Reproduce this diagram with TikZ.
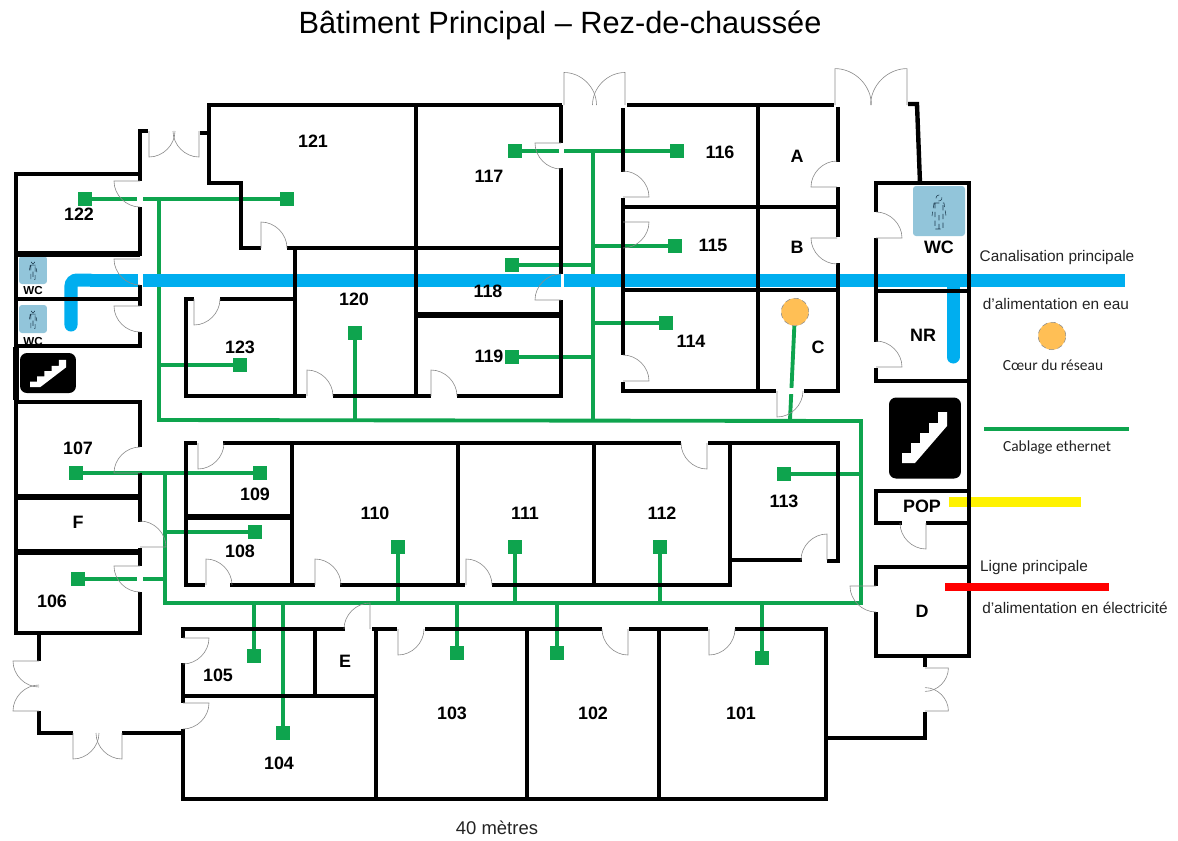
\documentclass[tikz,border=0pt]{standalone}
\usepackage{fontspec}
\usepackage{xcolor}
\setmainfont{Liberation Sans}
\newfontfamily\legendfont{Carlito}
\definecolor{cableGreen}{RGB}{14, 164, 78}
\definecolor{waterBlue}{RGB}{0, 174, 239}
\definecolor{coreOrange}{RGB}{255, 191, 85}
\definecolor{iconBlue}{RGB}{146, 197, 218}
\definecolor{iconLine}{RGB}{30, 60, 80}
\definecolor{powerYellow}{RGB}{255, 242, 0}
\definecolor{powerRed}{RGB}{255, 0, 0}
\definecolor{doorGray}{RGB}{140, 140, 140}
\definecolor{textGray}{RGB}{35, 35, 35}

% door: hinge, then the transform that turns it
\newcommand{\door}[2]{\draw[doorline, shift={(#1)}, #2] (0,0) -- (0,26) .. controls (14,26) and (26,14) .. (26,0);}
\newcommand{\stairs}[2]{\fill[white, shift={(#1)}, #2] (0,0) -- (0,-10) -- (9,-10) -- (9,-20) -- (18,-20) -- (18,-30) -- (27,-30) -- (27,-40) -- (36,-40) -- (36,-51) -- (45,-51) -- (45,-37) -- (13,0) -- cycle;}
\newcommand{\person}[2]{\draw[iconLine, line width=0.3pt, densely dashed, shift={(#1)}, scale=#2] (0,-14) circle (3) (-5,-9) -- (5,-9) -- (7,4) (-5,-9) -- (-7,4) (-4,-9) -- (-4,17) -- (4,17) -- (4,-9) (0,3) -- (0,17);}

\begin{document}
\begin{tikzpicture}[x=0.02cm, y=-0.02cm]
            % Styles
            \tikzstyle{wall} = [line width=2.5pt, black]
            \tikzstyle{thickwall} = [line width=3.4pt, black]
            \tikzstyle{doorline} = [line width=0.35pt, doorGray]
            \tikzstyle{cable} = [line width=2.2pt, cableGreen]
            \tikzstyle{outlet} = [rectangle, minimum size=0.28cm, inner sep=0pt, fill=cableGreen]
            \tikzstyle{water} = [line width=7.4pt, waterBlue]
            \tikzstyle{core} = [circle, minimum size=0.55cm, inner sep=0pt, fill=coreOrange, draw=doorGray, densely dashed, line width=0.3pt]
            \tikzstyle{room} = [font=\bfseries\fontsize{10.2}{12}\selectfont, inner sep=0pt]
            \tikzstyle{legend} = [font=\fontsize{8.75}{10}\selectfont, text=textGray, inner sep=0pt]
            \tikzstyle{legendb} = [font=\legendfont\fontsize{8.8}{10}\selectfont, text=textGray, inner sep=0pt]
            \tikzstyle{wcicon} = [rectangle, rounded corners=0.06cm, fill=iconBlue]
            \tikzstyle{stairicon} = [rectangle, rounded corners=0.14cm, fill=black]

            \useasboundingbox (0,0) rectangle (1178,840);

            % Outlets
            \node[outlet] (outlet122) at (85,199) {};
            \node[outlet] (outlet121) at (287,199) {};
            \node[outlet] (outlet123) at (240,365) {};
            \node[outlet] (outlet120) at (355,333) {};
            \node[outlet] (outlet117) at (515,151) {};
            \node[outlet] (outlet116) at (677,151) {};
            \node[outlet] (outlet118) at (512,265) {};
            \node[outlet] (outlet115) at (675,246) {};
            \node[outlet] (outlet114) at (666,323) {};
            \node[outlet] (outlet119) at (512,357) {};
            \node[outlet] (outlet113) at (784,474) {};
            \node[outlet] (outlet107) at (76,473) {};
            \node[outlet] (outlet109) at (260,473) {};
            \node[outlet] (outlet108) at (255,532) {};
            \node[outlet] (outlet106) at (78,579) {};
            \node[outlet] (outlet110) at (398,547) {};
            \node[outlet] (outlet111) at (515,547) {};
            \node[outlet] (outlet112) at (660,547) {};
            \node[outlet] (outlet105) at (254,656) {};
            \node[outlet] (outlet104) at (283,733) {};
            \node[outlet] (outlet103) at (457,653) {};
            \node[outlet] (outlet102) at (557,653) {};
            \node[outlet] (outlet101) at (762,658) {};
            \node[core] (core) at (795,312) {};

            % Cable junctions
            \coordinate (loopA) at (159,199);
            \coordinate (loopB) at (159,420);
            \coordinate (loopC) at (861,421);
            \coordinate (loopD) at (861,603);
            \coordinate (loopE) at (165,603);
            \coordinate (loopF) at (165,473);
            \coordinate (trunkTop) at (593,151);
            \coordinate (trunkEnd) at (593,421);
            \coordinate (coreDrop) at (790,420);

            % Cables
            \draw[cable] (outlet122) -- (outlet121);
            \draw[cable] (outlet117) -- (outlet116);
            \draw[cable] (outlet107) -- (outlet109);
            \draw[cable] (loopA) -- (loopB) -- (loopC) -- (loopD) -- (loopE) -- (loopF);
            \draw[cable] (trunkTop) -- (trunkEnd);
            \draw[cable] (outlet123) -- (outlet123 -| loopA);
            \draw[cable] (outlet120) -- (outlet120 |- loopB);
            \draw[cable] (outlet118) -- (outlet118 -| trunkTop);
            \draw[cable] (outlet115) -- (outlet115 -| trunkTop);
            \draw[cable] (outlet114) -- (outlet114 -| trunkTop);
            \draw[cable] (outlet119) -- (outlet119 -| trunkTop);
            \draw[cable] (outlet113) -- (outlet113 -| loopC);
            \draw[cable] (outlet108) -- (outlet108 -| loopE);
            \draw[cable] (outlet106) -- (outlet106 -| loopE);
            \draw[cable] (outlet110) -- (outlet110 |- loopE);
            \draw[cable] (outlet111) -- (outlet111 |- loopE);
            \draw[cable] (outlet112) -- (outlet112 |- loopE);
            \draw[cable] (outlet105) -- (outlet105 |- loopE);
            \draw[cable] (outlet104) -- (outlet104 |- loopE);
            \draw[cable] (outlet103) -- (outlet103 |- loopE);
            \draw[cable] (outlet102) -- (outlet102 |- loopE);
            \draw[cable] (outlet101) -- (outlet101 |- loopE);
            \draw[cable] (core) -- (coreDrop);
            \fill[white] (137,192) rectangle (143,205);
            \fill[white] (137,574) rectangle (143,586);
            \fill[white] (559,146) rectangle (564,158);
            \fill[white] (784,388) rectangle (797,394);

            % Water pipe
            \coordinate (pipeA) at (71,325);
            \coordinate (pipeB) at (71,280);
            \coordinate (pipeC) at (90,280);
            \coordinate (pipeD) at (1125,280);
            \coordinate (pipeE) at (953,285);
            \coordinate (pipeF) at (953,357);
            \draw[water, line cap=round, rounded corners=0.12cm] (pipeA) -- (pipeB) -- (pipeC);
            \draw[water] (pipeC) -- (pipeD);
            \draw[water, line cap=round] (pipeE) -- (pipeF);
            \fill[white] (138,273) rectangle (143,287);
            \fill[white] (561,273) rectangle (564,287);

            % Icons
            \node[wcicon, minimum width=0.56cm, minimum height=0.56cm] (wcIconA) at (33,270) {};
            \node[wcicon, minimum width=0.56cm, minimum height=0.56cm] (wcIconB) at (33,319) {};
            \node[wcicon, minimum width=1.04cm, minimum height=1.0cm] (wcIconC) at (939,211) {};
            \person{33,270}{0.55}
            \person{33,319}{0.55}
            \person{939,212}{1}
            \node[stairicon, minimum width=1.12cm, minimum height=0.8cm] (stairsSmall) at (48,373) {};
            \node[stairicon, minimum width=1.44cm, minimum height=1.62cm] (stairsBig) at (925,438) {};
            \stairs{30,387}{xscale=0.8, yscale=0.53}
            \stairs{902,463}{}
            \node[room, font=\bfseries\fontsize{6.6}{7}\selectfont] (wcSmallA) at (33,290) {WC};
            \node[room, font=\bfseries\fontsize{6.6}{7}\selectfont] (wcSmallB) at (33,341) {WC};

            % Walls, left wing
            \draw[wall] (140,181) -- (140,131) -- (148,131);
            \draw[wall] (200,133) -- (209,133);
            \draw[wall] (140,592) -- (140,633) -- (16,633) -- (16,174) -- (140,174);
            \draw[wall] (140,566) -- (140,548);
            \draw[wall] (140,522) -- (140,473);
            \draw[wall] (140,447) -- (140,402) -- (16,402);
            \draw[wall] (140,207) -- (140,256);
            \draw[wall] (140,285) -- (140,306);
            \draw[wall] (140,332) -- (140,346) -- (16,346);
            \draw[thickwall] (16,254) -- (140,254);
            \draw[wall] (16,299) -- (140,299);
            \draw[thickwall] (16,497) -- (140,497);
            \draw[thickwall] (16,552) -- (140,552);
            \draw[thickwall] (16,347) -- (16,400);

            % Walls, north rooms
            \draw[wall] (562,105) -- (209,105) -- (209,183) -- (241,183) -- (241,248) -- (261,248);
            \draw[wall] (287,248) -- (561,248);
            \draw[wall] (416,105) -- (416,396);
            \draw[wall] (561,105) -- (561,143);
            \draw[wall] (561,168) -- (561,274);
            \draw[wall] (561,300) -- (561,396) -- (457,396);
            \draw[wall] (431,396) -- (333,396);
            \draw[wall] (306,396) -- (186,396) -- (186,299) -- (194,299);
            \draw[wall] (220,299) -- (295,299);
            \draw[wall] (295,248) -- (295,396);
            \draw[thickwall] (416,315) -- (561,315);
            \draw[wall] (627,105) -- (834,105);
            \draw[wall] (623,108) -- (623,172);
            \draw[wall] (623,198) -- (623,355);
            \draw[wall] (623,382) -- (623,391) -- (776,391);
            \draw[wall] (804,391) -- (838,391) -- (838,263);
            \draw[wall] (838,237) -- (838,187);
            \draw[wall] (838,162) -- (838,107);
            \draw[wall] (758,105) -- (758,391);
            \draw[wall] (623,207) -- (838,207);
            \draw[wall] (623,290) -- (838,290);

            % Walls, east rooms
            \draw[wall] (908,104) -- (917,104) -- (920,183);
            \draw[wall] (876,212) -- (876,183) -- (969,183) -- (969,656) -- (876,656) -- (876,612);
            \draw[wall] (876,586) -- (876,567) -- (969,567);
            \draw[wall] (876,238) -- (876,342);
            \draw[wall] (876,368) -- (876,381) -- (969,381);
            \draw[wall] (876,291) -- (969,291);
            \draw[wall] (902,523) -- (876,523) -- (876,491) -- (969,491);
            \draw[wall] (926,523) -- (969,523);

            % Walls, middle rooms
            \draw[wall] (197,443) -- (186,443) -- (186,585) -- (205,585);
            \draw[wall] (230,585) -- (315,585);
            \draw[wall] (340,585) -- (465,585);
            \draw[wall] (492,585) -- (730,585) -- (730,443);
            \draw[wall] (223,443) -- (681,443);
            \draw[wall] (708,443) -- (838,443) -- (838,561) -- (827,561);
            \draw[wall] (802,560) -- (730,560);
            \draw[wall] (292,443) -- (292,585);
            \draw[thickwall] (186,517) -- (292,517);
            \draw[wall] (458,443) -- (458,585);
            \draw[wall] (594,443) -- (594,585);

            % Walls, south rooms
            \draw[wall] (39,633) -- (39,661);
            \draw[wall] (39,711) -- (39,733) -- (73,733);
            \draw[wall] (122,733) -- (183,733);
            \draw[wall] (345,629) -- (183,629) -- (183,638);
            \draw[wall] (183,663) -- (183,703);
            \draw[wall] (183,729) -- (183,799) -- (826,799) -- (826,629) -- (735,629);
            \draw[wall] (708,629) -- (629,629);
            \draw[wall] (602,629) -- (425,629);
            \draw[wall] (397,629) -- (372,629);
            \draw[wall] (315,629) -- (315,696);
            \draw[wall] (183,696) -- (376,696);
            \draw[wall] (376,629) -- (376,799);
            \draw[wall] (527,629) -- (527,799);
            \draw[wall] (659,629) -- (659,799);
            \draw[wall] (826,738) -- (925,738) -- (925,712);
            \draw[wall] (925,667) -- (925,656);

            % Doors
            \door{140,181}{rotate=-90}
            \door{140,259}{rotate=-90}
            \door{140,306}{rotate=-90}
            \door{149,131}{}
            \door{199,131}{xscale=-1}
            \door{261,248}{yscale=-1}
            \door{194,299}{}
            \door{307,396}{yscale=-1}
            \door{431,396}{yscale=-1}
            \door{561,143}{rotate=-90}
            \door{561,300}{rotate=-90, xscale=-1}
            \door{623,197}{rotate=-90, xscale=-1, yscale=-1}
            \door{623,222}{rotate=-90, yscale=-1}
            \door{623,381}{rotate=-90, xscale=-1, yscale=-1}
            \door{837,187}{rotate=-90, xscale=-1}
            \door{837,238}{rotate=-90}
            \door{876,238}{rotate=-90, xscale=-1, yscale=-1}
            \door{876,367}{rotate=-90, xscale=-1, yscale=-1}
            \door{777,391}{}
            \door{198,443}{}
            \door{140,473}{rotate=-90, xscale=-1}
            \door{140,547}{rotate=-90, xscale=-1, yscale=-1}
            \door{140,566}{rotate=-90}
            \door{206,585}{yscale=-1}
            \door{315,585}{yscale=-1}
            \door{466,585}{yscale=-1}
            \door{707,443}{xscale=-1}
            \door{827,560}{xscale=-1, yscale=-1}
            \door{926,523}{xscale=-1}
            \door{876,586}{rotate=-90}
            \door{370,629}{xscale=-1, yscale=-1}
            \door{398,629}{}
            \door{628,629}{xscale=-1}
            \door{709,629}{}
            \door{183,638}{rotate=-90, yscale=-1}
            \door{183,703}{rotate=-90, yscale=-1}
            \door{39,661}{rotate=-90}
            \door{39,711}{rotate=-90, xscale=-1}
            \door{73,733}{}
            \door{122,733}{xscale=-1}
            \door{925,668}{rotate=-90, yscale=-1, scale=0.9}
            \door{925,711}{rotate=-90, xscale=-1, yscale=-1, scale=0.9}
            \door{564,105}{yscale=-1, scale=1.25}
            \door{625,105}{xscale=-1, yscale=-1, scale=1.25}
            \door{835,105}{yscale=-1, scale=1.4}
            \door{907,105}{xscale=-1, yscale=-1, scale=1.4}

            % Room labels
            \node[room] (room121) at (313,141) {121};
            \node[room] (room122) at (79,214) {122};
            \node[room] (room123) at (240,347) {123};
            \node[room] (room120) at (354,299) {120};
            \node[room] (room117) at (489,176) {117};
            \node[room] (room118) at (488,291) {118};
            \node[room] (room119) at (489,356) {119};
            \node[room] (room116) at (720,152) {116};
            \node[room] (room115) at (713,245) {115};
            \node[room] (room114) at (691,341) {114};
            \node[room] (roomA) at (797,156) {A};
            \node[room] (roomB) at (797,247) {B};
            \node[room] (roomC) at (818,347) {C};
            \node[room] (roomWC) at (939,247) {WC};
            \node[room] (roomNR) at (923,335) {NR};
            \node[room] (roomPOP) at (922,506) {POP};
            \node[room] (roomD) at (922,611) {D};
            \node[room] (room107) at (78,448) {107};
            \node[room] (room109) at (255,494) {109};
            \node[room] (room110) at (375,513) {110};
            \node[room] (room111) at (525,513) {111};
            \node[room] (room112) at (662,513) {112};
            \node[room] (room113) at (784,501) {113};
            \node[room] (room108) at (240,551) {108};
            \node[room] (roomF) at (78,522) {F};
            \node[room] (room106) at (52,601) {106};
            \node[room] (room105) at (218,675) {105};
            \node[room] (roomE) at (345,661) {E};
            \node[room] (room104) at (279,763) {104};
            \node[room] (room103) at (452,713) {103};
            \node[room] (room102) at (593,713) {102};
            \node[room] (room101) at (741,713) {101};

            % Legend
            \coordinate (cableA) at (984,429);
            \coordinate (cableB) at (1129,429);
            \coordinate (popA) at (949,502);
            \coordinate (popB) at (1081,502);
            \coordinate (powerA) at (945,587);
            \coordinate (powerB) at (1109,587);
            \draw[cableGreen, line width=2.8pt] (cableA) -- (cableB);
            \draw[powerYellow, line width=5.6pt] (popA) -- (popB);
            \draw[powerRed, line width=5pt] (powerA) -- (powerB);
            \draw[wall] (969,491) -- (969,523);
            \node[core] (coreLegend) at (1052,336) {};
            \node[legend] (pipeTextA) at (1057,258) {Canalisation principale};
            \node[legend] (pipeTextB) at (1056,304) {d’alimentation en eau};
            \node[legendb] (coreText) at (1053,365) {Cœur du réseau};
            \node[legendb] (cableText) at (1057,447) {Cablage ethernet};
            \node[legend] (powerTextA) at (1034,568) {Ligne principale};
            \node[legend] (powerTextB) at (1075,608) {d’alimentation en électricité};

            % Title and scale
            \node[font=\fontsize{17.5}{20}\selectfont, text=black, inner sep=0pt] (title) at (560,25) {Bâtiment Principal – Rez-de-chaussée};
            \node[font=\fontsize{10.5}{12}\selectfont, text=textGray, inner sep=0pt] (scale) at (497,828) {40 mètres};
        \end{tikzpicture}
\end{document}
